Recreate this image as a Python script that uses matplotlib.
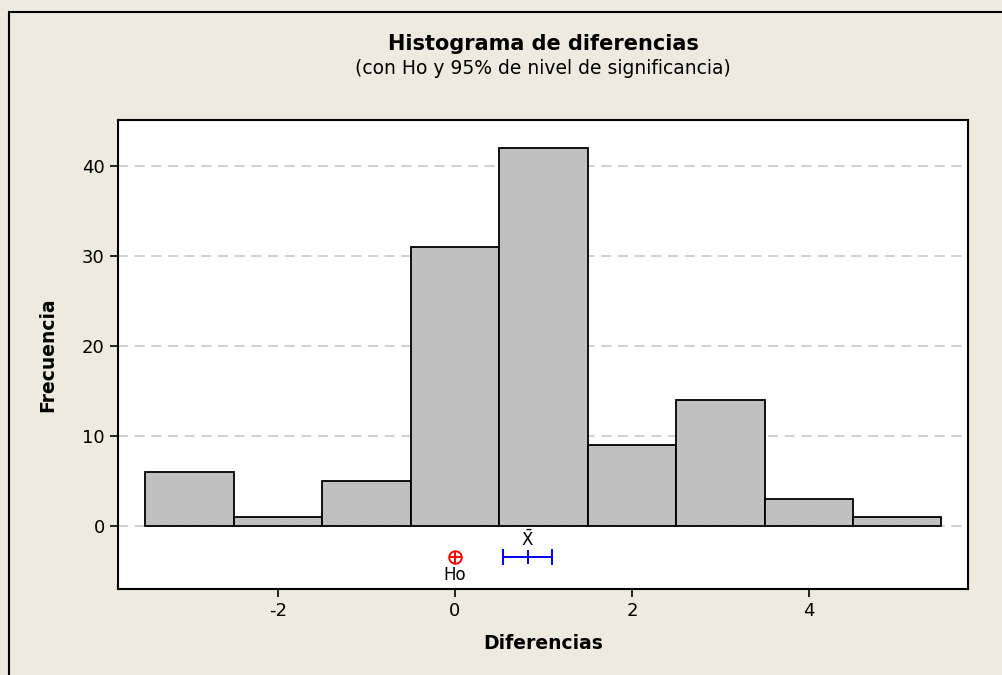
import matplotlib.pyplot as plt
from matplotlib.patches import Rectangle
import numpy as np

plt.rcParams['axes.unicode_minus'] = False

# histogram bins (centres) and counts
bin_centres = [-3, -2, -1, 0, 1, 2, 3, 4, 5]
counts = [6, 1, 5, 31, 42, 9, 14, 3, 1]
bin_width = 1.0

# Ho and 95% interval for the mean
ho = 0.0
mean_diff = 0.82
ci_low, ci_high = 0.54, 1.10
marker_y = -3.5

xticks = [-2, 0, 2, 4]
yticks = [0, 10, 20, 30, 40]

bg = '#eeeae0'
fig = plt.figure(figsize=(10.02, 6.75), dpi=100, facecolor=bg)
W, H = 1002, 675

# outer frame
fig.patches.append(Rectangle((9 / W, -0.1), 1.2, 1 - 12 / H + 0.1, transform=fig.transFigure,
                             fill=False, edgecolor='black', linewidth=1.5))

ax = fig.add_axes([118 / W, 1 - 589 / H, (968 - 118) / W, (589 - 120) / H])
ax.set_facecolor('white')

ax.bar(bin_centres, counts, width=bin_width, color='#c0c0c0', edgecolor='black',
       linewidth=1.3, zorder=3)

ax.set_xlim(-3.81, 5.80)
ax.set_ylim(-7.0, 45.1)

for y in yticks:
    ax.axhline(y, color='#c8c8c8', linestyle=(0, (6, 4)), linewidth=1.2, zorder=1)

# Ho marker
ax.plot(ho, marker_y, marker='o', markersize=9, markerfacecolor='none',
        markeredgecolor='red', markeredgewidth=1.4, zorder=4)
ax.plot(ho, marker_y, marker='+', markersize=9, color='red', markeredgewidth=1.4, zorder=4)
ax.text(ho, marker_y - 1.0, 'Ho', ha='center', va='top', fontsize=12)

# mean with interval
ax.errorbar(mean_diff, marker_y, xerr=[[mean_diff - ci_low], [ci_high - mean_diff]],
            fmt='|', color='blue', ecolor='blue', capsize=6, capthick=1.4,
            elinewidth=1.4, markersize=10, markeredgewidth=1.4, zorder=4)
ax.text(mean_diff, marker_y + 0.8, r'$\mathregular{\bar{X}}$', ha='center', va='bottom', fontsize=12)

ax.set_xticks(xticks)
ax.set_yticks(yticks)
ax.tick_params(axis='both', labelsize=13, length=6, width=1.2, direction='out')
for s in ax.spines.values():
    s.set_linewidth(1.5)

ax.set_xlabel('Diferencias', fontsize=13.5, fontweight='bold', labelpad=10)
ax.set_ylabel('Frecuencia', fontsize=13.5, fontweight='bold', labelpad=18)

cx = (118 + 968) / 2 / W
fig.text(cx, 1 - 44 / H, 'Histograma de diferencias', ha='center', va='center',
         fontsize=15, fontweight='bold')
fig.text(cx, 1 - 69 / H, '(con Ho y 95% de nivel de significancia)', ha='center',
         va='center', fontsize=13.5)

fig.savefig('out.png', dpi=100, facecolor=bg)
